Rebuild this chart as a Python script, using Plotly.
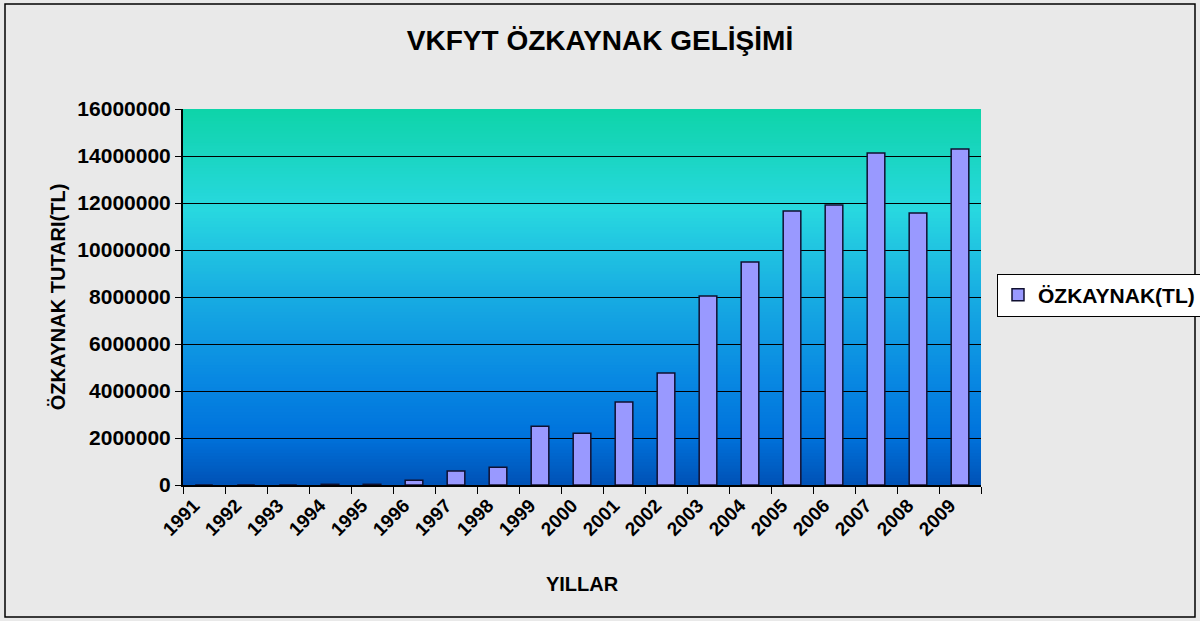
import plotly.graph_objects as go

years = [str(y) for y in range(1991, 2010)]
equity = [0, 0, 0, 30000, 30000, 200000, 600000, 760000, 2500000, 2200000,
          3530000, 4770000, 8040000, 9490000, 11660000, 11910000, 14130000, 11570000, 14300000]

title_text = "VKFYT ÖZKAYNAK GELİŞİMİ"
x_title = "YILLAR"
y_title = "ÖZKAYNAK TUTARI(TL)"
series_name = "ÖZKAYNAK(TL)"

FONT = "Liberation Sans, Arial, sans-serif"

# gradient stops (position from top, rgb)
stops = [(0.0, (14, 212, 168)), (0.27, (40, 216, 224)), (0.5, (24, 172, 226)),
         (0.72, (8, 136, 226)), (0.87, (0, 115, 220)), (1.0, (0, 82, 182))]

def color_at(t):
    for (p0, c0), (p1, c1) in zip(stops[:-1], stops[1:]):
        if p0 <= t <= p1:
            f = (t - p0) / (p1 - p0)
            return "rgb(%d,%d,%d)" % tuple(round(a + (b - a) * f) for a, b in zip(c0, c1))
    return "rgb(%d,%d,%d)" % stops[-1][1]

shapes = []
N = 120
for i in range(N):
    y1 = 1 - i / N
    y0 = 1 - (i + 1) / N
    shapes.append(dict(type="rect", xref="paper", yref="paper", x0=0, x1=1, y0=y0, y1=min(1, y1 + 0.002),
                       fillcolor=color_at((i + 0.5) / N), line=dict(width=0), layer="below"))

L, R, T, B = 183, 219, 109, 136
W, H = 1200, 621
pw, ph = W - L - R, H - T - B
# outer border
shapes.append(dict(type="rect", xref="paper", yref="paper",
                   x0=(5 - L) / pw, x1=(1195 - L) / pw,
                   y0=(H - B - 617) / ph, y1=(H - B - 4) / ph,
                   line=dict(color="black", width=1.5), fillcolor="rgba(0,0,0,0)", layer="above"))

fig = go.Figure()
fig.add_trace(go.Bar(x=years, y=equity, name=series_name, width=0.42,
                     marker=dict(color="#9999ff", line=dict(color="#101030", width=1.5)),
                     showlegend=True))

fig.update_layout(
    width=W, height=H,
    margin=dict(l=L, r=R, t=T, b=B, autoexpand=False),
    paper_bgcolor="#e9e9e9",
    plot_bgcolor="#1ab0e0",
    shapes=shapes,
    title=dict(text=title_text, x=0.5, xanchor="center", y=1 - 40 / H, yanchor="middle",
               font=dict(family=FONT, size=28, color="black", weight="bold")),
    font=dict(family=FONT, color="black"),
    showlegend=True,
    legend=dict(x=(997 - L) / pw, y=(H - B - 295) / ph, xanchor="left", yanchor="middle",
                bgcolor="white", bordercolor="black", borderwidth=1,
                font=dict(family=FONT, size=21, color="black", weight="bold")),
    xaxis=dict(type="category", tickangle=-45, tickson="boundaries", ticks="outside", ticklen=7,
               tickcolor="black", showline=True, linecolor="black", linewidth=2,
               ticklabelshift=-10,
               tickfont=dict(family=FONT, size=19, color="black", weight="bold"),
               title=dict(text=x_title, font=dict(family=FONT, size=20, color="black", weight="bold"),
                          standoff=38),
               showgrid=False),
    yaxis=dict(range=[0, 16000000], dtick=2000000, tickformat="d", ticks="outside", ticklen=6,
               tickcolor="black", showline=True, linecolor="black", linewidth=2,
               showgrid=True, gridcolor="black", gridwidth=1, zeroline=False,
               tickfont=dict(family=FONT, size=21, color="black", weight="bold"),
               title=dict(text=y_title, font=dict(family=FONT, size=20, color="black", weight="bold"),
                          standoff=6)),
)

fig.write_html("out.html", config={"displayModeBar": False},
               post_script="document.body.style.margin='0';")
